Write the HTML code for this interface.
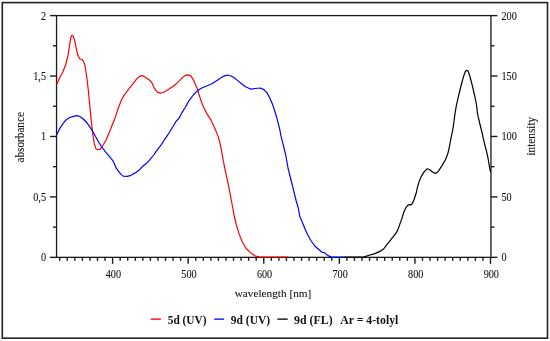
<!DOCTYPE html>
<html><head><meta charset="utf-8"><style>
html,body{margin:0;padding:0;background:#fff;width:550px;height:341px;overflow:hidden}
svg{display:block;font-family:"Liberation Serif",serif}
svg{will-change:transform}
</style></head><body>
<svg width="550" height="341" viewBox="0 0 550 341">
<rect x="56.55" y="15.6" width="434.4" height="241.75000000000003" fill="none" stroke="#1a1a1a" stroke-width="1.3"/>
<line x1="50.05" y1="257.35" x2="56.55" y2="257.35" stroke="#1a1a1a" stroke-width="1.4"/>
<line x1="490.95" y1="257.35" x2="497.45" y2="257.35" stroke="#1a1a1a" stroke-width="1.4"/>
<line x1="53.05" y1="227.13" x2="56.55" y2="227.13" stroke="#1a1a1a" stroke-width="1.4"/>
<line x1="490.95" y1="227.13" x2="494.45" y2="227.13" stroke="#1a1a1a" stroke-width="1.4"/>
<line x1="50.05" y1="196.91" x2="56.55" y2="196.91" stroke="#1a1a1a" stroke-width="1.4"/>
<line x1="490.95" y1="196.91" x2="497.45" y2="196.91" stroke="#1a1a1a" stroke-width="1.4"/>
<line x1="53.05" y1="166.69" x2="56.55" y2="166.69" stroke="#1a1a1a" stroke-width="1.4"/>
<line x1="490.95" y1="166.69" x2="494.45" y2="166.69" stroke="#1a1a1a" stroke-width="1.4"/>
<line x1="50.05" y1="136.48" x2="56.55" y2="136.48" stroke="#1a1a1a" stroke-width="1.4"/>
<line x1="490.95" y1="136.48" x2="497.45" y2="136.48" stroke="#1a1a1a" stroke-width="1.4"/>
<line x1="53.05" y1="106.26" x2="56.55" y2="106.26" stroke="#1a1a1a" stroke-width="1.4"/>
<line x1="490.95" y1="106.26" x2="494.45" y2="106.26" stroke="#1a1a1a" stroke-width="1.4"/>
<line x1="50.05" y1="76.04" x2="56.55" y2="76.04" stroke="#1a1a1a" stroke-width="1.4"/>
<line x1="490.95" y1="76.04" x2="497.45" y2="76.04" stroke="#1a1a1a" stroke-width="1.4"/>
<line x1="53.05" y1="45.82" x2="56.55" y2="45.82" stroke="#1a1a1a" stroke-width="1.4"/>
<line x1="490.95" y1="45.82" x2="494.45" y2="45.82" stroke="#1a1a1a" stroke-width="1.4"/>
<line x1="50.05" y1="15.60" x2="56.55" y2="15.60" stroke="#1a1a1a" stroke-width="1.4"/>
<line x1="490.95" y1="15.60" x2="497.45" y2="15.60" stroke="#1a1a1a" stroke-width="1.4"/>
<line x1="59.69" y1="257.35" x2="59.69" y2="260.85" stroke="#1a1a1a" stroke-width="1.4"/>
<line x1="67.25" y1="257.35" x2="67.25" y2="260.85" stroke="#1a1a1a" stroke-width="1.4"/>
<line x1="74.81" y1="257.35" x2="74.81" y2="260.85" stroke="#1a1a1a" stroke-width="1.4"/>
<line x1="82.37" y1="257.35" x2="82.37" y2="260.85" stroke="#1a1a1a" stroke-width="1.4"/>
<line x1="89.93" y1="257.35" x2="89.93" y2="260.85" stroke="#1a1a1a" stroke-width="1.4"/>
<line x1="97.48" y1="257.35" x2="97.48" y2="260.85" stroke="#1a1a1a" stroke-width="1.4"/>
<line x1="105.04" y1="257.35" x2="105.04" y2="260.85" stroke="#1a1a1a" stroke-width="1.4"/>
<line x1="112.60" y1="257.35" x2="112.60" y2="263.85" stroke="#1a1a1a" stroke-width="1.4"/>
<line x1="120.16" y1="257.35" x2="120.16" y2="260.85" stroke="#1a1a1a" stroke-width="1.4"/>
<line x1="127.72" y1="257.35" x2="127.72" y2="260.85" stroke="#1a1a1a" stroke-width="1.4"/>
<line x1="135.27" y1="257.35" x2="135.27" y2="260.85" stroke="#1a1a1a" stroke-width="1.4"/>
<line x1="142.83" y1="257.35" x2="142.83" y2="260.85" stroke="#1a1a1a" stroke-width="1.4"/>
<line x1="150.39" y1="257.35" x2="150.39" y2="260.85" stroke="#1a1a1a" stroke-width="1.4"/>
<line x1="157.95" y1="257.35" x2="157.95" y2="260.85" stroke="#1a1a1a" stroke-width="1.4"/>
<line x1="165.51" y1="257.35" x2="165.51" y2="260.85" stroke="#1a1a1a" stroke-width="1.4"/>
<line x1="173.06" y1="257.35" x2="173.06" y2="260.85" stroke="#1a1a1a" stroke-width="1.4"/>
<line x1="180.62" y1="257.35" x2="180.62" y2="260.85" stroke="#1a1a1a" stroke-width="1.4"/>
<line x1="188.18" y1="257.35" x2="188.18" y2="263.85" stroke="#1a1a1a" stroke-width="1.4"/>
<line x1="195.74" y1="257.35" x2="195.74" y2="260.85" stroke="#1a1a1a" stroke-width="1.4"/>
<line x1="203.30" y1="257.35" x2="203.30" y2="260.85" stroke="#1a1a1a" stroke-width="1.4"/>
<line x1="210.85" y1="257.35" x2="210.85" y2="260.85" stroke="#1a1a1a" stroke-width="1.4"/>
<line x1="218.41" y1="257.35" x2="218.41" y2="260.85" stroke="#1a1a1a" stroke-width="1.4"/>
<line x1="225.97" y1="257.35" x2="225.97" y2="260.85" stroke="#1a1a1a" stroke-width="1.4"/>
<line x1="233.53" y1="257.35" x2="233.53" y2="260.85" stroke="#1a1a1a" stroke-width="1.4"/>
<line x1="241.09" y1="257.35" x2="241.09" y2="260.85" stroke="#1a1a1a" stroke-width="1.4"/>
<line x1="248.64" y1="257.35" x2="248.64" y2="260.85" stroke="#1a1a1a" stroke-width="1.4"/>
<line x1="256.20" y1="257.35" x2="256.20" y2="260.85" stroke="#1a1a1a" stroke-width="1.4"/>
<line x1="263.76" y1="257.35" x2="263.76" y2="263.85" stroke="#1a1a1a" stroke-width="1.4"/>
<line x1="271.32" y1="257.35" x2="271.32" y2="260.85" stroke="#1a1a1a" stroke-width="1.4"/>
<line x1="278.88" y1="257.35" x2="278.88" y2="260.85" stroke="#1a1a1a" stroke-width="1.4"/>
<line x1="286.43" y1="257.35" x2="286.43" y2="260.85" stroke="#1a1a1a" stroke-width="1.4"/>
<line x1="293.99" y1="257.35" x2="293.99" y2="260.85" stroke="#1a1a1a" stroke-width="1.4"/>
<line x1="301.55" y1="257.35" x2="301.55" y2="260.85" stroke="#1a1a1a" stroke-width="1.4"/>
<line x1="309.11" y1="257.35" x2="309.11" y2="260.85" stroke="#1a1a1a" stroke-width="1.4"/>
<line x1="316.67" y1="257.35" x2="316.67" y2="260.85" stroke="#1a1a1a" stroke-width="1.4"/>
<line x1="324.22" y1="257.35" x2="324.22" y2="260.85" stroke="#1a1a1a" stroke-width="1.4"/>
<line x1="331.78" y1="257.35" x2="331.78" y2="260.85" stroke="#1a1a1a" stroke-width="1.4"/>
<line x1="339.34" y1="257.35" x2="339.34" y2="263.85" stroke="#1a1a1a" stroke-width="1.4"/>
<line x1="346.90" y1="257.35" x2="346.90" y2="260.85" stroke="#1a1a1a" stroke-width="1.4"/>
<line x1="354.46" y1="257.35" x2="354.46" y2="260.85" stroke="#1a1a1a" stroke-width="1.4"/>
<line x1="362.01" y1="257.35" x2="362.01" y2="260.85" stroke="#1a1a1a" stroke-width="1.4"/>
<line x1="369.57" y1="257.35" x2="369.57" y2="260.85" stroke="#1a1a1a" stroke-width="1.4"/>
<line x1="377.13" y1="257.35" x2="377.13" y2="260.85" stroke="#1a1a1a" stroke-width="1.4"/>
<line x1="384.69" y1="257.35" x2="384.69" y2="260.85" stroke="#1a1a1a" stroke-width="1.4"/>
<line x1="392.25" y1="257.35" x2="392.25" y2="260.85" stroke="#1a1a1a" stroke-width="1.4"/>
<line x1="399.80" y1="257.35" x2="399.80" y2="260.85" stroke="#1a1a1a" stroke-width="1.4"/>
<line x1="407.36" y1="257.35" x2="407.36" y2="260.85" stroke="#1a1a1a" stroke-width="1.4"/>
<line x1="414.92" y1="257.35" x2="414.92" y2="263.85" stroke="#1a1a1a" stroke-width="1.4"/>
<line x1="422.48" y1="257.35" x2="422.48" y2="260.85" stroke="#1a1a1a" stroke-width="1.4"/>
<line x1="430.04" y1="257.35" x2="430.04" y2="260.85" stroke="#1a1a1a" stroke-width="1.4"/>
<line x1="437.59" y1="257.35" x2="437.59" y2="260.85" stroke="#1a1a1a" stroke-width="1.4"/>
<line x1="445.15" y1="257.35" x2="445.15" y2="260.85" stroke="#1a1a1a" stroke-width="1.4"/>
<line x1="452.71" y1="257.35" x2="452.71" y2="260.85" stroke="#1a1a1a" stroke-width="1.4"/>
<line x1="460.27" y1="257.35" x2="460.27" y2="260.85" stroke="#1a1a1a" stroke-width="1.4"/>
<line x1="467.83" y1="257.35" x2="467.83" y2="260.85" stroke="#1a1a1a" stroke-width="1.4"/>
<line x1="475.38" y1="257.35" x2="475.38" y2="260.85" stroke="#1a1a1a" stroke-width="1.4"/>
<line x1="482.94" y1="257.35" x2="482.94" y2="260.85" stroke="#1a1a1a" stroke-width="1.4"/>
<line x1="490.50" y1="257.35" x2="490.50" y2="263.85" stroke="#1a1a1a" stroke-width="1.4"/>
<text transform="translate(46.00,261.35) scale(0.93,1.12)" text-anchor="end" font-size="11" fill="#111" stroke="#111" stroke-width="0.08">0</text>
<text transform="translate(46.00,200.91) scale(0.93,1.12)" text-anchor="end" font-size="11" fill="#111" stroke="#111" stroke-width="0.08">0,5</text>
<text transform="translate(46.00,140.48) scale(0.93,1.12)" text-anchor="end" font-size="11" fill="#111" stroke="#111" stroke-width="0.08">1</text>
<text transform="translate(46.00,80.04) scale(0.93,1.12)" text-anchor="end" font-size="11" fill="#111" stroke="#111" stroke-width="0.08">1,5</text>
<text transform="translate(46.00,19.60) scale(0.93,1.12)" text-anchor="end" font-size="11" fill="#111" stroke="#111" stroke-width="0.08">2</text>
<text transform="translate(501.50,261.35) scale(0.93,1.12)" text-anchor="start" font-size="11" fill="#111" stroke="#111" stroke-width="0.08">0</text>
<text transform="translate(501.50,200.91) scale(0.93,1.12)" text-anchor="start" font-size="11" fill="#111" stroke="#111" stroke-width="0.08">50</text>
<text transform="translate(501.50,140.48) scale(0.93,1.12)" text-anchor="start" font-size="11" fill="#111" stroke="#111" stroke-width="0.08">100</text>
<text transform="translate(501.50,80.04) scale(0.93,1.12)" text-anchor="start" font-size="11" fill="#111" stroke="#111" stroke-width="0.08">150</text>
<text transform="translate(501.50,19.60) scale(0.93,1.12)" text-anchor="start" font-size="11" fill="#111" stroke="#111" stroke-width="0.08">200</text>
<text transform="translate(113.40,277.60) scale(0.93,1.12)" text-anchor="middle" font-size="11" fill="#111" stroke="#111" stroke-width="0.08">400</text>
<text transform="translate(188.98,277.60) scale(0.93,1.12)" text-anchor="middle" font-size="11" fill="#111" stroke="#111" stroke-width="0.08">500</text>
<text transform="translate(264.56,277.60) scale(0.93,1.12)" text-anchor="middle" font-size="11" fill="#111" stroke="#111" stroke-width="0.08">600</text>
<text transform="translate(340.14,277.60) scale(0.93,1.12)" text-anchor="middle" font-size="11" fill="#111" stroke="#111" stroke-width="0.08">700</text>
<text transform="translate(415.72,277.60) scale(0.93,1.12)" text-anchor="middle" font-size="11" fill="#111" stroke="#111" stroke-width="0.08">800</text>
<text transform="translate(491.30,277.60) scale(0.93,1.12)" text-anchor="middle" font-size="11" fill="#111" stroke="#111" stroke-width="0.08">900</text>
<text transform="translate(273.00,296.80) scale(1,1)" text-anchor="middle" font-size="11" fill="#111" stroke="#111" stroke-width="0.08" textLength="76.5" lengthAdjust="spacingAndGlyphs">wavelength [nm]</text>
<text transform="translate(23.90,137.30) rotate(-90) scale(1,1.08)" text-anchor="middle" font-size="11" fill="#111" stroke="#111" stroke-width="0.08" textLength="50.5" lengthAdjust="spacingAndGlyphs">absorbance</text>
<text transform="translate(534.50,136.20) rotate(-90) scale(1,1.08)" text-anchor="middle" font-size="11" fill="#111" stroke="#111" stroke-width="0.08" textLength="38.6" lengthAdjust="spacingAndGlyphs">intensity</text>
<polyline points="56.9,83.9 59.9,77.3 62.8,72.0 65.7,64.7 67.9,55.9 69.8,44.1 70.9,37.1 71.9,35.3 73.4,36.5 74.8,41.2 76.3,48.5 77.8,55.1 79.7,58.8 81.9,59.5 83.3,61.0 84.8,64.7 86.0,72.0 87.0,78.8 88.5,92.0 89.6,103.7 91.0,118.4 92.9,134.9 94.3,143.7 95.8,148.4 97.3,149.6 100.2,149.3 102.9,145.3 105.9,140.2 108.8,133.6 111.7,126.3 114.7,118.9 117.6,110.0 121.3,100.2 124.2,95.1 128.6,89.2 133.0,83.8 136.7,78.9 139.6,76.4 141.8,75.6 144.0,76.4 146.9,78.2 150.0,80.4 152.2,83.3 154.4,88.4 157.3,92.1 160.3,93.1 163.2,92.5 167.6,89.9 172.0,86.9 176.4,83.7 180.8,79.3 184.5,75.9 187.8,74.9 190.8,75.9 193.3,79.6 195.5,84.7 197.5,89.5 199.4,95.8 201.6,102.4 204.5,109.0 207.3,114.4 210.3,118.8 213.2,124.7 216.1,131.3 218.3,137.1 220.1,143.7 221.7,151.8 223.2,160.0 224.5,166.8 226.7,177.1 228.9,187.3 230.8,197.6 232.6,207.0 234.0,215.0 236.4,225.0 238.9,233.4 242.2,241.8 246.4,248.8 251.4,253.4 255.5,256.1 259.1,256.8 264.0,257.0 288.0,257.0" fill="none" stroke="#ff0000" stroke-width="1.2" stroke-linejoin="round" stroke-linecap="round"/>
<polyline points="56.9,134.5 59.5,128.9 62.2,124.8 64.6,121.5 66.0,119.9 69.2,117.8 73.6,116.4 76.7,115.7 78.9,116.0 82.4,118.2 86.0,121.7 87.7,123.9 91.4,129.1 95.1,135.7 98.7,142.3 101.5,146.5 105.9,152.3 110.0,157.2 112.6,160.3 114.4,163.8 116.2,168.2 118.8,171.7 121.0,174.4 123.2,176.1 127.2,176.4 130.2,175.7 133.3,173.9 136.4,172.2 140.0,169.2 143.5,165.5 147.0,162.9 150.6,158.9 154.1,154.5 155.8,151.9 158.5,148.4 161.5,144.4 164.1,140.2 168.8,133.3 173.2,126.3 176.3,121.0 178.9,118.4 181.5,113.5 183.3,110.4 185.2,107.5 188.9,100.9 193.3,95.0 196.9,91.3 200.0,89.1 202.3,87.7 206.7,86.0 211.9,83.8 217.0,80.4 222.1,77.0 225.1,75.6 227.6,75.0 230.9,76.0 233.9,77.5 237.5,80.4 241.2,83.5 245.0,86.5 251.0,89.2 254.7,88.5 260.5,88.0 264.2,89.9 267.1,92.9 270.1,98.7 272.6,104.6 274.5,110.3 276.7,117.3 279.7,129.1 281.1,136.4 283.3,145.2 285.7,155.0 288.1,168.3 291.0,180.0 293.9,191.7 296.1,200.5 298.3,208.0 299.7,215.9 302.9,223.8 306.9,233.3 310.8,240.5 315.6,246.8 320.0,250.5 322.2,252.3 324.4,252.6 326.5,254.5 328.7,255.9 330.9,256.9 345.0,257.0" fill="none" stroke="#0000ff" stroke-width="1.2" stroke-linejoin="round" stroke-linecap="round"/>
<polyline points="345.0,257.0 364.0,256.8 368.4,255.5 374.9,253.6 381.4,250.6 383.6,249.0 386.9,244.6 391.3,239.2 395.6,233.7 397.8,229.9 399.7,224.6 402.0,218.1 403.8,212.3 405.6,208.2 407.9,205.2 409.7,204.7 411.2,205.0 412.6,202.9 414.3,198.8 416.1,193.5 417.3,187.8 419.1,181.4 421.5,176.1 424.4,171.4 427.3,168.8 429.7,169.7 432.6,172.0 435.5,173.4 436.7,172.8 438.5,170.8 440.2,168.3 442.0,165.6 443.8,162.6 445.3,160.0 446.6,157.0 447.8,153.6 448.7,150.0 449.5,146.5 450.1,142.9 450.8,139.3 451.5,135.9 452.4,131.5 453.1,128.0 454.1,120.5 455.0,113.7 456.3,105.9 458.3,96.9 460.0,90.0 461.5,84.0 463.0,78.3 464.3,74.3 465.5,71.2 466.7,70.3 468.2,71.3 469.9,76.3 471.3,81.5 472.6,86.8 473.9,92.5 475.2,98.2 476.1,102.5 476.8,107.1 477.3,112.2 478.2,116.9 479.9,124.0 482.0,132.5 483.6,139.6 485.0,145.3 486.6,151.6 488.2,159.0 489.2,165.4 490.0,169.6 490.5,171.7" fill="none" stroke="#000000" stroke-width="1.2" stroke-linejoin="round" stroke-linecap="round"/>
<line x1="150.8" y1="319.15" x2="160.9" y2="319.15" stroke="#ff2e3e" stroke-width="1.7"/>
<line x1="214.2" y1="319.15" x2="224.1" y2="319.15" stroke="#3a3aff" stroke-width="1.7"/>
<line x1="277.4" y1="319.15" x2="287.7" y2="319.15" stroke="#3a3a3a" stroke-width="1.7"/>
<text transform="translate(167.80,323.50) scale(1.0,1.07)" text-anchor="start" font-size="11" fill="#111" font-weight="bold" textLength="38.7" lengthAdjust="spacingAndGlyphs">5d (UV)</text>
<text transform="translate(230.80,323.50) scale(1.0,1.07)" text-anchor="start" font-size="11" fill="#111" font-weight="bold" textLength="39.3" lengthAdjust="spacingAndGlyphs">9d (UV)</text>
<text transform="translate(294.10,323.50) scale(1.0,1.07)" text-anchor="start" font-size="11" fill="#111" font-weight="bold" textLength="38.5" lengthAdjust="spacingAndGlyphs">9d (FL)</text>
<text transform="translate(340.30,323.50) scale(1.0,1.07)" text-anchor="start" font-size="11" fill="#111" font-weight="bold" textLength="58.0" lengthAdjust="spacingAndGlyphs">Ar = 4-tolyl</text>
<rect x="2.3" y="2.6" width="545.2" height="335.6" fill="none" stroke="#222" stroke-width="1.6"/>
</svg>
</body></html>
